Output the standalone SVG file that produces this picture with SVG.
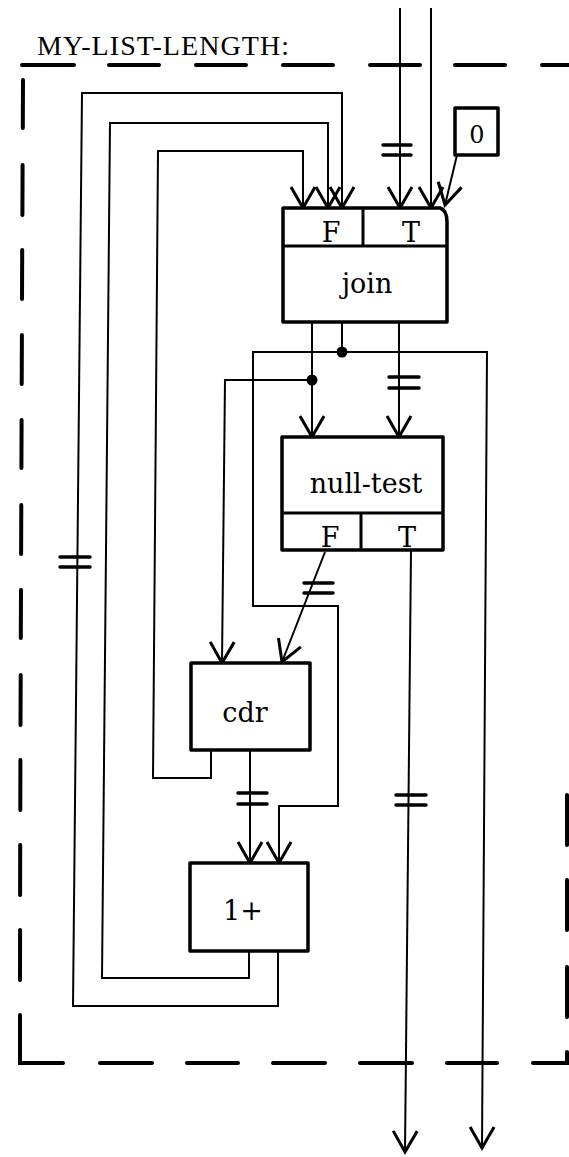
<svg xmlns="http://www.w3.org/2000/svg" width="569" height="1157" viewBox="0 0 569 1157">
<style>
.frame{stroke:#000;stroke-width:4;stroke-linecap:round;fill:none}
.box{fill:#fff;stroke:#000;stroke-width:3.5;stroke-linejoin:round}
.div{stroke:#000;stroke-width:3;fill:none}
.wire{stroke:#000;stroke-width:2;fill:none}
.eq{stroke:#000;stroke-width:3.5;stroke-linecap:round}
.lbl{font-family:"DejaVu Serif","Liberation Serif",serif;font-size:27px;fill:#000;text-anchor:middle}
.small{font-size:24px}
.title{font-family:"Liberation Serif","DejaVu Serif",serif;font-size:28px;fill:#000}
</style>
<defs>
<marker id="ah" markerUnits="userSpaceOnUse" markerWidth="30" markerHeight="30" viewBox="-25 -15 30 30" refX="0" refY="0" orient="auto" overflow="visible">
<path d="M-21,-12 L0,0 L-21,12" fill="none" stroke="#000" stroke-width="3"/>
</marker>
</defs>
<g id="frame">
<text class="title" x="37" y="55" textLength="252" lengthAdjust="spacing">MY-LIST-LENGTH:</text>
<path class="frame" d="M22,65 H74 M109,65 H159 M196,65 H246 M283,65 H333 M370,65 H420 M455,65 H505 M542,65 H569"/>
<path class="frame" d="M23,80 L22.8,128 M22.6,165 L22.4,215 M22.2,250 L22,299 M21.9,335 L21.7,384 M21.6,420 L21.4,468 M21.3,505 L21.1,554 M21,590 L20.8,638 M20.7,675 L20.5,725 M20.4,760 L20.3,810 M20.2,845 L20.1,895 M20.1,930 L20,980 M20,1015 L20,1063 H63"/>
<path class="frame" d="M100,1063 H152 M187,1063 H238 M273,1063 H325 M360,1063 H412 M447,1063 H497 M533,1063 H567 V1052 M567,1017 V967 M567,930 V880 M567,845 V795"/>
</g>
<g id="connectors">
<path class="wire" d="M400,8 V208" marker-end="url(#ah)"/>
<path class="wire" d="M431,8 V208" marker-end="url(#ah)"/>
<path class="wire" d="M457,155 L445,205" marker-end="url(#ah)"/>
<path class="wire" d="M278,951 V1006 H73 L82,93 H342 V208" marker-end="url(#ah)"/>
<path class="wire" d="M249,951 V978 H102 L110,123 H328 V208" marker-end="url(#ah)"/>
<path class="wire" d="M211,750 V778 H153 L158,151 H303 V208" marker-end="url(#ah)"/>
<path class="wire" d="M312,322 V437" marker-end="url(#ah)"/>
<path class="wire" d="M399,322 V437" marker-end="url(#ah)"/>
<path class="wire" d="M342,322 V352"/>
<path class="wire" d="M342,352 H487 L482,1148" marker-end="url(#ah)"/>
<path class="wire" d="M342,352 H253 V606 H338 V806 H279 V863" marker-end="url(#ah)"/>
<path class="wire" d="M312,380 H225 L222,663" marker-end="url(#ah)"/>
<path class="wire" d="M325,552 L282,662" marker-end="url(#ah)"/>
<path class="wire" d="M411,550 L405,1152" marker-end="url(#ah)"/>
<path class="wire" d="M250,750 V863" marker-end="url(#ah)"/>
<circle cx="342" cy="352" r="5.5" fill="#000"/>
<circle cx="312" cy="380" r="5.5" fill="#000"/>
<path class="eq" d="M383,145 H411 M383,155 H411"/>
<path class="eq" d="M389,377 H419 M389,388 H419"/>
<path class="eq" d="M304,583 H333 M304,593 H333"/>
<path class="eq" d="M238,793 H267 M238,804 H267"/>
<path class="eq" d="M396,795 H426 M396,805 H426"/>
<path class="eq" d="M60,557 H90 M60,567 H90"/>
</g>
<g id="zero">
<rect class="box" x="455" y="108" width="43" height="47" stroke-width="3"/>
<text class="lbl small" x="477" y="143">0</text>
</g>
<g id="join">
<path class="box" d="M283,208 H440 Q447,210 447,222 V322 H283 Z"/>
<path class="div" d="M283,246 H447 M363,208 V246"/>
<text class="lbl" x="331" y="242">F</text>
<text class="lbl" x="411" y="242">T</text>
<text class="lbl" x="367" y="293">join</text>
</g>
<g id="null-test">
<rect class="box" x="282" y="437" width="161" height="113"/>
<path class="div" d="M282,513 H443 M361,513 V550"/>
<text class="lbl" x="366" y="493">null-test</text>
<text class="lbl" x="330" y="547">F</text>
<text class="lbl" x="407" y="547">T</text>
</g>
<g id="cdr">
<rect class="box" x="191" y="663" width="119" height="87"/>
<text class="lbl" x="245" y="722">cdr</text>
</g>
<g id="oneplus">
<rect class="box" x="190" y="863" width="118" height="88"/>
<text class="lbl" x="243" y="920">1+</text>
</g>
</svg>
